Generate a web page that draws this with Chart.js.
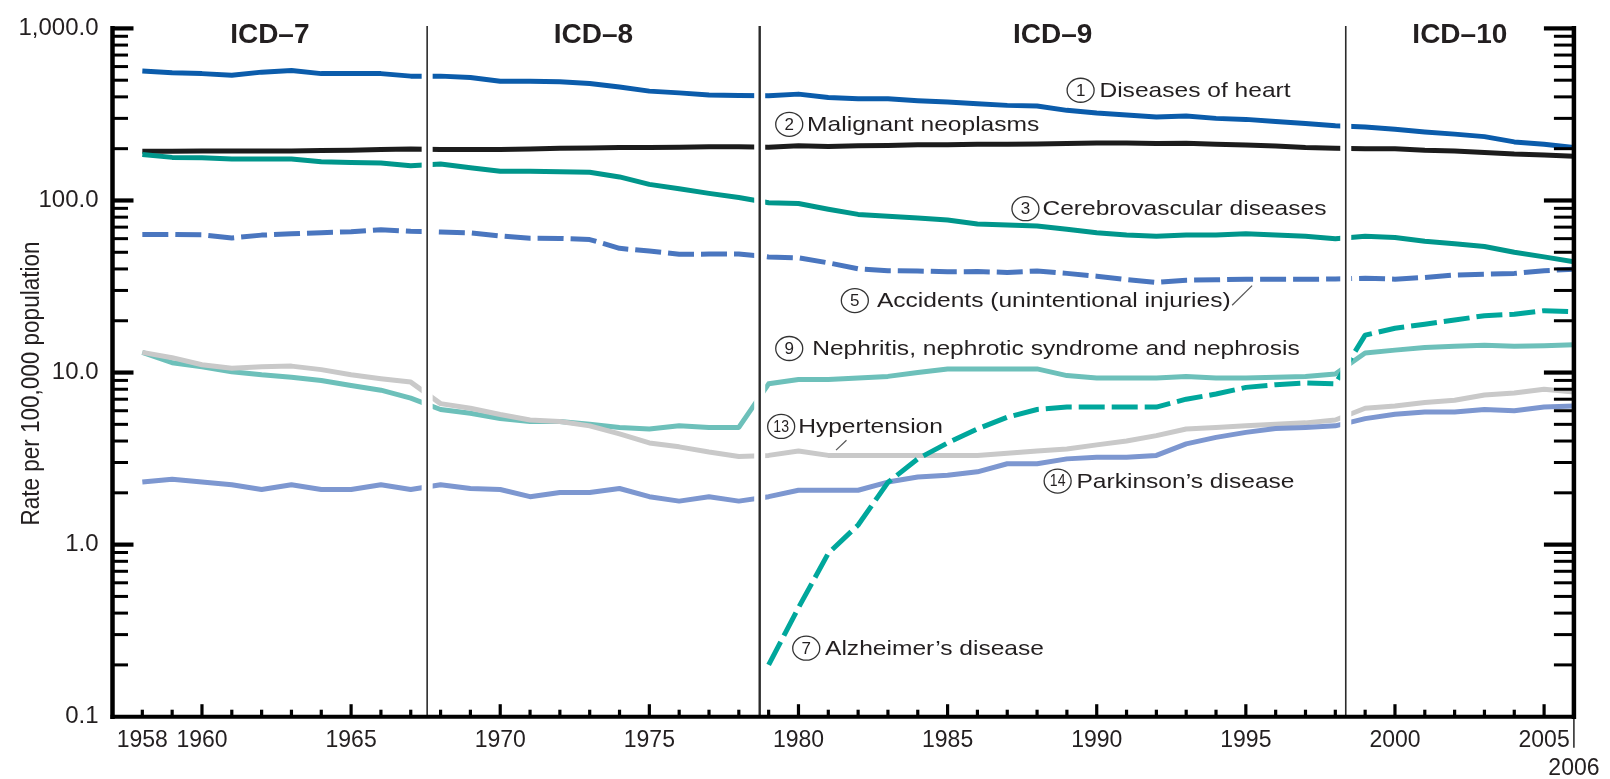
<!DOCTYPE html>
<html><head><meta charset="utf-8">
<script src="https://cdn.jsdelivr.net/npm/chart.js@4.4.1/dist/chart.umd.min.js"></script>
<style>html,body{margin:0;padding:0;background:#fff}canvas{display:block}</style>
</head><body>
<canvas id="c" width="1610" height="779" style="width:1610px;height:779px"></canvas>
<script>
// ---------------- DATA ----------------
const years = [1958,1959,1960,1961,1962,1963,1964,1965,1966,1967,
  1968,1969,1970,1971,1972,1973,1974,1975,1976,1977,1978,
  1979,1980,1981,1982,1983,1984,1985,1986,1987,1988,1989,1990,1991,1992,1993,1994,1995,1996,1997,1998,
  1999,2000,2001,2002,2003,2004,2005,2006];

const heart = [565,552,546,535,557,570,546,546,546,528,
  528,518,493,493,490,479,456,432,422,410,408,
  406,415,397,390,390,380,373,365,357,354,334,322,314,306,310,300,296,288,280,272,
  267,259,250,243,235,219,212,203];
const cancer = [193,193,194,194,194,194,195,196,198,199,
  198,198,198,199,201,202,203,203,204,205,205,
  204,208,206,208,209,211,211,212,212,213,214,216,216,214,215,212,210,207,203,201,
  200,200,196,194,190,186,184,181];
const cerebro = [185,178,177,174,174,174,168,166,165,159,
  163,155,148,148,147,146,137,124,117,110,104,
  97,96,89,83,81,79,77,73,72,71,68,65,63,62,63,63,64,63,62,60,
  62,61,58,56,54,50,47,44];
const accidents = [63.5,63.5,63.1,60.6,62.9,64.0,65.0,65.8,67.6,66.2,
  65.5,64.9,62.2,60.3,60.2,59.3,52.7,50.8,48.7,48.8,48.9,
  47.0,46.4,43.4,40.1,39.1,38.9,38.5,38.6,38.2,38.9,37.7,36.3,34.7,33.4,34.4,34.6,34.9,34.9,34.8,35.0,
  35.3,34.9,35.7,36.9,37.3,37.7,39.1,39.8];
const alzheimers = [null,null,null,null,null,null,null,null,null,null,
  null,null,null,null,null,null,null,null,null,null,null,
  0.2,0.43,0.89,1.3,2.3,3.15,3.9,4.7,5.5,6.1,6.3,6.3,6.3,6.3,7.0,7.5,8.2,8.5,8.7,8.6,
  16.5,18.1,19.1,20.2,21.4,21.8,22.9,22.6];
const nephritis = [13.1,11.4,10.8,10.1,9.7,9.4,9.0,8.4,7.9,7.1,
  6.1,5.8,5.4,5.2,5.2,5.0,4.8,4.7,4.9,4.8,4.8,
  8.6,9.1,9.1,9.3,9.5,10.0,10.5,10.5,10.5,10.5,9.6,9.3,9.3,9.3,9.5,9.3,9.3,9.4,9.5,9.8,
  13.0,13.5,14.0,14.2,14.4,14.2,14.3,14.5];
const hypertension = [13.1,12.2,11.1,10.6,10.8,10.9,10.4,9.7,9.2,8.8,
  6.6,6.2,5.7,5.3,5.2,4.9,4.4,3.9,3.7,3.45,3.25,
  3.3,3.5,3.3,3.3,3.3,3.3,3.3,3.3,3.4,3.5,3.6,3.8,4.0,4.3,4.7,4.8,4.9,5.0,5.1,5.3,
  6.2,6.4,6.7,6.9,7.4,7.6,8.0,7.7];
const parkinsons = [2.31,2.40,2.31,2.23,2.09,2.23,2.09,2.09,2.23,2.09,
  2.23,2.12,2.09,1.90,2.01,2.01,2.12,1.90,1.79,1.90,1.79,
  1.90,2.07,2.07,2.07,2.31,2.47,2.53,2.65,2.95,2.95,3.15,3.22,3.22,3.30,3.85,4.20,4.49,4.73,4.80,4.90,
  5.40,5.73,5.90,5.90,6.10,6.00,6.30,6.40];

const xLabelYears = [1958,1960,1965,1970,1975,1980,1985,1990,1995,2000,2005,2006];
const yLabelValues = [0.1,1,10,100,1000];
const yLabelText = ['0.1','1.0','10.0','100.0','1,000.0'];
const icdBreaks = [1967.55,1978.7,1998.35];
const icdNames = ['ICD\u20137','ICD\u20138','ICD\u20139','ICD\u201310'];
const yTitle = 'Rate per 100,000 population';

// annotation anchors in data space: circle centre (year,value), text start year
const notes = [
  {n:'1', text:'Diseases of heart', cx:1989.46, cy:437, tx:1990.09},
  {n:'2', text:'Malignant neoplasms', cx:1979.69, cy:277, tx:1980.29},
  {n:'3', text:'Cerebrovascular diseases', cx:1987.61, cy:89.6, tx:1988.18},
  {n:'5', text:'Accidents (unintentional injuries)', cx:1981.89, cy:26.2, tx:1982.63},
  {n:'9', text:'Nephritis, nephrotic syndrome and nephrosis', cx:1979.69, cy:13.8, tx:1980.46},
  {n:'13', text:'Hypertension', cx:1979.42, cy:4.86, tx:1979.99},
  {n:'14', text:'Parkinson\u2019s disease', cx:1988.69, cy:2.34, tx:1989.32},
  {n:'7', text:'Alzheimer\u2019s disease', cx:1980.26, cy:0.25, tx:1980.89}
];
const leaders = [
  {x1:1994.54, y1:24.6, x2:1995.21, y2:32.0},
  {x1:1981.26, y1:3.54, x2:1981.61, y2:4.04}
];

// ---------------- CHART ----------------
const FONT = '"Liberation Sans", Arial, Helvetica, sans-serif';
const TXT = '#231f20';
const pts = arr => years.map((yr, i) => ({x: yr, y: arr[i]}));
function ds(label, arr, color, dashed, order) {
  return {label, data: pts(arr), borderColor: color, borderWidth: 5, pointRadius: 0,
    tension: 0, fill: false, spanGaps: false, borderJoinStyle: 'round', borderCapStyle: 'butt',
    borderDash: dashed ? [26, 7] : [], order};
}

const decor = {
  id: 'decor',
  afterDatasetsDraw(chart) {
    const {ctx, chartArea: ca, scales: {x, y}} = chart;
    const L = ca.left, R = ca.right, T = ca.top, B = ca.bottom;
    ctx.save();
    // white gaps around classification breaks
    ctx.fillStyle = '#fff';
    icdBreaks.forEach(b => { const px = x.getPixelForValue(b); ctx.fillRect(px - 5.5, T - 3, 11, B - T); });
    // divider lines
    ctx.strokeStyle = '#2b2b2b';
    icdBreaks.forEach((b, i) => {
      const px = x.getPixelForValue(b);
      ctx.lineWidth = i === 1 ? 2.4 : 1.6;
      ctx.beginPath(); ctx.moveTo(px, T - 2.5); ctx.lineTo(px, B); ctx.stroke();
    });
    // axes
    ctx.strokeStyle = '#000';
    ctx.lineCap = 'butt';
    ctx.lineWidth = 4.5;
    ctx.beginPath(); ctx.moveTo(L, T - 2.5); ctx.lineTo(L, B + 2.3); ctx.stroke();
    ctx.beginPath(); ctx.moveTo(R, T - 2.5); ctx.lineTo(R, B + 2.3); ctx.stroke();
    ctx.lineWidth = 4;
    ctx.beginPath(); ctx.moveTo(L - 2, B); ctx.lineTo(R + 2, B); ctx.stroke();
    ctx.lineWidth = 1.3;
    ctx.beginPath(); ctx.moveTo(R, B + 2); ctx.lineTo(R, B + 31); ctx.stroke();
    // y ticks (inside)
    for (let d = -1; d <= 3; d++) {
      for (let m = 1; m <= 9; m++) {
        const v = m * Math.pow(10, d);
        if (v > 1000 || (d === -1 && m === 1)) continue;
        if (d === 3 && m > 1) continue;
        const py = y.getPixelForValue(v);
        const major = m === 1;
        ctx.lineWidth = major ? 4.2 : 3;
        ctx.beginPath(); ctx.moveTo(L, py); ctx.lineTo(L + (major ? 21 : 15.5), py); ctx.stroke();
        ctx.beginPath(); ctx.moveTo(R, py); ctx.lineTo(R - (major ? 30 : 20), py); ctx.stroke();
      }
    }
    // x ticks (inside)
    ctx.lineWidth = 3.2;
    for (let yr = 1958; yr <= 2005; yr++) {
      const px = x.getPixelForValue(yr);
      ctx.beginPath(); ctx.moveTo(px, B); ctx.lineTo(px, B - (yr % 5 === 0 ? 12.5 : 7)); ctx.stroke();
    }
    // ICD labels
    const bounds = [x.min].concat(icdBreaks, [x.max]).map(v => x.getPixelForValue(v));
    ctx.fillStyle = TXT;
    ctx.font = 'bold 28px ' + FONT;
    ctx.textAlign = 'center'; ctx.textBaseline = 'middle';
    icdNames.forEach((nm, i) => ctx.fillText(nm, (bounds[i] + bounds[i + 1]) / 2, T + 7));
    // y title
    ctx.save();
    ctx.translate(32, (T + B) / 2 + 11);
    ctx.rotate(-Math.PI / 2);
    ctx.scale(1, 1.15);
    ctx.font = '22.5px ' + FONT;
    ctx.fillText(yTitle, 0, 0);
    ctx.restore();
    // annotations
    notes.forEach(a => {
      const cx = x.getPixelForValue(a.cx), cy = y.getPixelForValue(a.cy);
      ctx.strokeStyle = '#333'; ctx.lineWidth = 1.3;
      ctx.beginPath(); ctx.ellipse(cx, cy, 13.5, 12, 0, 0, Math.PI * 2); ctx.stroke();
      ctx.save();
      ctx.translate(cx, cy + 1);
      ctx.textAlign = 'center';
      if (a.n.length > 1) { ctx.scale(0.88, 1); ctx.font = '16px ' + FONT; }
      else ctx.font = '17px ' + FONT;
      ctx.fillText(a.n, 0, 0);
      ctx.restore();
      ctx.save();
      ctx.translate(x.getPixelForValue(a.tx), cy + 1);
      ctx.scale(1.17, 1);
      ctx.textAlign = 'left';
      ctx.font = '21px ' + FONT;
      ctx.fillText(a.text, 0, 0);
      ctx.restore();
    });
    ctx.strokeStyle = '#555'; ctx.lineWidth = 1.2;
    leaders.forEach(l => {
      ctx.beginPath();
      ctx.moveTo(x.getPixelForValue(l.x1), y.getPixelForValue(l.y1));
      ctx.lineTo(x.getPixelForValue(l.x2), y.getPixelForValue(l.y2));
      ctx.stroke();
    });
    ctx.restore();
  }
};

new Chart(document.getElementById('c'), {
  type: 'line',
  data: {
    datasets: [
      ds('Alzheimer\u2019s disease', alzheimers, '#00a79c', true, 0),
      ds('Parkinson\u2019s disease', parkinsons, '#7d97d0', false, 1),
      ds('Hypertension', hypertension, '#c9c9c9', false, 2),
      ds('Nephritis, nephrotic syndrome and nephrosis', nephritis, '#6dc0ba', false, 3),
      ds('Accidents (unintentional injuries)', accidents, '#4a76bf', true, 4),
      ds('Cerebrovascular diseases', cerebro, '#00968b', false, 5),
      ds('Malignant neoplasms', cancer, '#1c1c1c', false, 6),
      ds('Diseases of heart', heart, '#0b5cab', false, 7)
    ]
  },
  options: {
    responsive: false, animation: false, devicePixelRatio: 1, events: [],
    layout: {padding: {top: 22.7, right: 35, left: 0, bottom: 0}},
    plugins: {legend: {display: false}, tooltip: {enabled: false}},
    scales: {
      x: {
        type: 'linear', min: 1957, max: 2006,
        grid: {display: false, drawTicks: false}, border: {display: false},
        afterBuildTicks: s => { s.ticks = xLabelYears.map(v => ({value: v})); },
        afterFit: s => { s.height = 62.3; },
        ticks: {autoSkip: false, maxRotation: 0, minRotation: 0, padding: 10.5,
          color: TXT, font: {family: FONT, size: 23},
          callback: v => v === 2006 ? ['', '2006'] : String(v)}
      },
      y: {
        type: 'logarithmic', min: 0.1, max: 1000,
        grid: {display: false, drawTicks: false}, border: {display: false},
        afterBuildTicks: s => { s.ticks = yLabelValues.map(v => ({value: v})); },
        afterFit: s => { s.width = 112.5; },
        ticks: {autoSkip: false, padding: 14, color: TXT, font: {family: FONT, size: 24},
          callback: v => { const i = yLabelValues.indexOf(v); return i >= 0 ? yLabelText[i] : ''; }}
      }
    }
  },
  plugins: [decor]
});
</script>
</body></html>
